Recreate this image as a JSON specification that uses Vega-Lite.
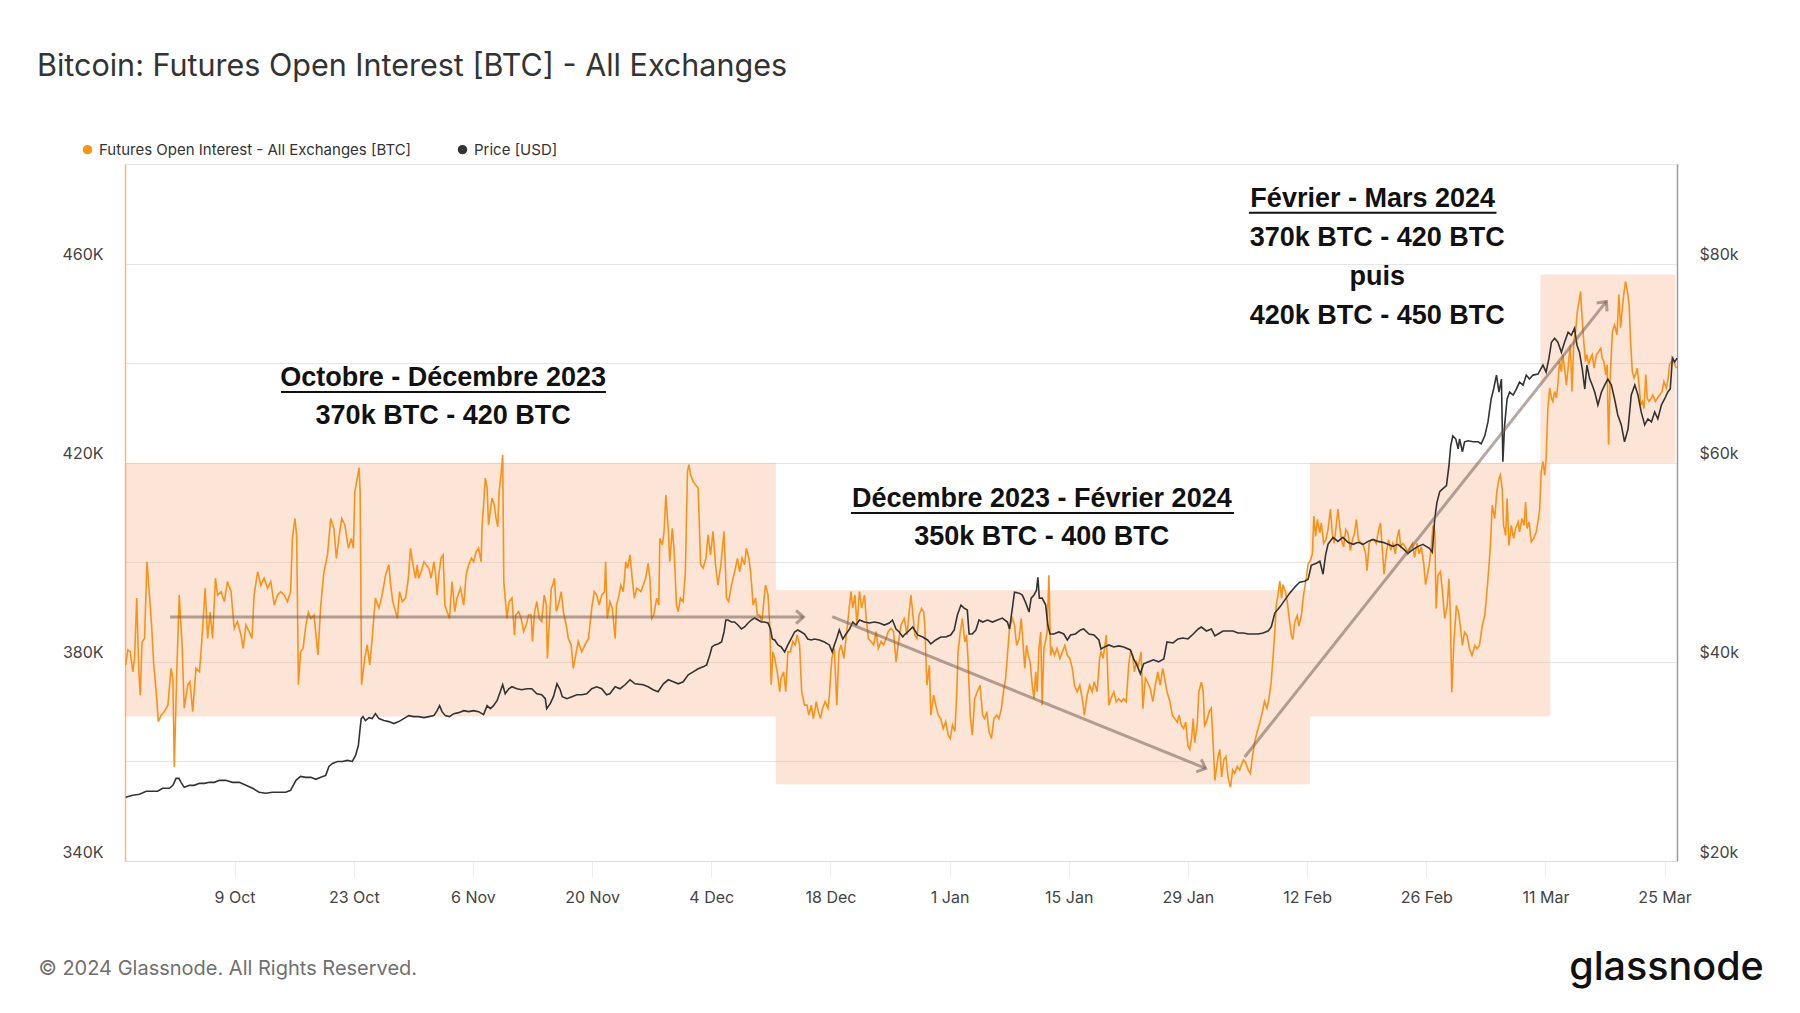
{
"$schema": "https://vega.github.io/schema/vega-lite/v6.json",
"width": 1552, "height": 697,
"autosize": {"type": "none"},
"padding": {"left": 125, "top": 164, "right": 123, "bottom": 152},
"background": "white",
"config": {"font": "Inter", "view": {"stroke": "#e4e4e4", "strokeWidth": 1}},
"title": {"text": "Bitcoin: Futures Open Interest [BTC] - All Exchanges", "anchor": "start", "frame": "group", "dx": -88, "offset": 36, "baseline": "alphabetic", "fontSize": 30.5, "fontWeight": 400, "color": "#333333", "font": "Inter"},
"datasets": {
"oi": [
{"t":"2023-09-26T05:00","v":379.4},{"t":"2023-09-26T11:00","v":382.4},{"t":"2023-09-26T18:00","v":382.0},{"t":"2023-09-27T01:00","v":378.0},{"t":"2023-09-27T06:00","v":380.7},{"t":"2023-09-27T12:00","v":392.8},{"t":"2023-09-27T18:00","v":378.0},{"t":"2023-09-27T22:00","v":373.3},{"t":"2023-09-28T03:00","v":384.0},{"t":"2023-09-28T10:00","v":384.7},{"t":"2023-09-28T17:00","v":400.1},{"t":"2023-09-29T00:00","v":393.4},{"t":"2023-09-29T06:00","v":387.4},{"t":"2023-09-29T12:00","v":379.4},{"t":"2023-09-29T19:00","v":374.0},{"t":"2023-09-30T01:00","v":368.0},{"t":"2023-09-30T09:00","v":369.3},{"t":"2023-09-30T18:00","v":370.0},{"t":"2023-10-01T04:00","v":371.3},{"t":"2023-10-01T13:00","v":378.7},{"t":"2023-10-01T18:00","v":376.7},{"t":"2023-10-01T22:00","v":358.9},{"t":"2023-10-02T05:00","v":378.0},{"t":"2023-10-02T12:00","v":393.4},{"t":"2023-10-02T20:00","v":383.4},{"t":"2023-10-03T02:00","v":370.7},{"t":"2023-10-03T12:00","v":375.4},{"t":"2023-10-03T18:00","v":376.0},{"t":"2023-10-04T02:00","v":370.0},{"t":"2023-10-04T11:00","v":378.7},{"t":"2023-10-04T21:00","v":378.0},{"t":"2023-10-05T04:00","v":384.7},{"t":"2023-10-05T13:00","v":394.8},{"t":"2023-10-05T20:00","v":384.7},{"t":"2023-10-06T03:00","v":390.0},{"t":"2023-10-06T10:00","v":384.7},{"t":"2023-10-06T18:00","v":396.8},{"t":"2023-10-07T00:00","v":393.4},{"t":"2023-10-07T10:00","v":394.1},{"t":"2023-10-07T19:00","v":392.1},{"t":"2023-10-08T04:00","v":396.1},{"t":"2023-10-08T14:00","v":394.1},{"t":"2023-10-08T23:00","v":386.7},{"t":"2023-10-09T08:00","v":388.1},{"t":"2023-10-09T18:00","v":385.4},{"t":"2023-10-10T00:00","v":382.7},{"t":"2023-10-10T08:00","v":387.4},{"t":"2023-10-10T17:00","v":386.1},{"t":"2023-10-11T01:00","v":384.7},{"t":"2023-10-11T07:00","v":393.4},{"t":"2023-10-11T17:00","v":398.1},{"t":"2023-10-12T02:00","v":395.4},{"t":"2023-10-12T11:00","v":396.8},{"t":"2023-10-12T21:00","v":394.8},{"t":"2023-10-13T06:00","v":396.1},{"t":"2023-10-13T16:00","v":391.4},{"t":"2023-10-14T01:00","v":393.4},{"t":"2023-10-14T10:00","v":394.1},{"t":"2023-10-14T20:00","v":393.4},{"t":"2023-10-15T05:00","v":392.1},{"t":"2023-10-15T14:00","v":394.1},{"t":"2023-10-15T19:00","v":404.8},{"t":"2023-10-16T02:00","v":408.8},{"t":"2023-10-16T07:00","v":405.5},{"t":"2023-10-16T12:00","v":375.4},{"t":"2023-10-16T18:00","v":382.0},{"t":"2023-10-17T01:00","v":382.7},{"t":"2023-10-17T09:00","v":387.4},{"t":"2023-10-17T16:00","v":390.0},{"t":"2023-10-17T23:00","v":388.7},{"t":"2023-10-18T08:00","v":389.4},{"t":"2023-10-18T19:00","v":381.4},{"t":"2023-10-19T03:00","v":391.4},{"t":"2023-10-19T12:00","v":398.1},{"t":"2023-10-19T22:00","v":401.5},{"t":"2023-10-20T07:00","v":408.8},{"t":"2023-10-20T16:00","v":406.8},{"t":"2023-10-20T23:00","v":400.8},{"t":"2023-10-21T06:00","v":404.8},{"t":"2023-10-21T14:00","v":408.8},{"t":"2023-10-21T23:00","v":407.5},{"t":"2023-10-22T09:00","v":402.8},{"t":"2023-10-22T17:00","v":404.8},{"t":"2023-10-22T23:00","v":402.8},{"t":"2023-10-23T03:00","v":414.2},{"t":"2023-10-23T10:00","v":416.9},{"t":"2023-10-23T15:00","v":419.0},{"t":"2023-10-23T18:00","v":414.2},{"t":"2023-10-23T22:00","v":375.4},{"t":"2023-10-24T07:00","v":380.7},{"t":"2023-10-24T14:00","v":383.4},{"t":"2023-10-24T21:00","v":379.4},{"t":"2023-10-25T04:00","v":384.7},{"t":"2023-10-25T13:00","v":392.8},{"t":"2023-10-25T23:00","v":390.8},{"t":"2023-10-26T08:00","v":393.4},{"t":"2023-10-26T18:00","v":397.5},
{"t":"2023-10-27T03:00","v":399.5},{"t":"2023-10-27T08:00","v":395.4},{"t":"2023-10-27T14:00","v":392.1},{"t":"2023-10-27T22:00","v":390.1},{"t":"2023-10-28T03:00","v":388.7},{"t":"2023-10-28T09:00","v":394.1},{"t":"2023-10-28T17:00","v":392.1},{"t":"2023-10-29T02:00","v":392.8},{"t":"2023-10-29T10:00","v":396.8},{"t":"2023-10-29T16:00","v":402.8},{"t":"2023-10-29T23:00","v":399.5},{"t":"2023-10-30T06:00","v":396.8},{"t":"2023-10-30T11:00","v":399.5},{"t":"2023-10-30T15:00","v":396.8},{"t":"2023-10-30T22:00","v":398.1},{"t":"2023-10-31T06:00","v":400.1},{"t":"2023-10-31T12:00","v":399.5},{"t":"2023-10-31T20:00","v":398.8},{"t":"2023-11-01T02:00","v":396.8},{"t":"2023-11-01T10:00","v":400.1},{"t":"2023-11-01T14:00","v":398.1},{"t":"2023-11-01T19:00","v":393.4},{"t":"2023-11-02T00:00","v":397.5},{"t":"2023-11-02T06:00","v":400.8},{"t":"2023-11-02T12:00","v":401.5},{"t":"2023-11-02T17:00","v":391.4},{"t":"2023-11-02T23:00","v":390.1},{"t":"2023-11-03T06:00","v":388.7},{"t":"2023-11-03T13:00","v":396.1},{"t":"2023-11-03T21:00","v":390.1},{"t":"2023-11-04T03:00","v":392.8},{"t":"2023-11-04T13:00","v":394.8},{"t":"2023-11-04T22:00","v":391.4},{"t":"2023-11-05T05:00","v":397.5},{"t":"2023-11-05T12:00","v":399.5},{"t":"2023-11-05T20:00","v":400.8},{"t":"2023-11-06T02:00","v":400.1},{"t":"2023-11-06T09:00","v":402.1},{"t":"2023-11-06T16:00","v":402.8},{"t":"2023-11-06T23:00","v":400.1},{"t":"2023-11-07T02:00","v":407.5},{"t":"2023-11-07T06:00","v":411.5},{"t":"2023-11-07T11:00","v":416.9},{"t":"2023-11-07T16:00","v":414.9},{"t":"2023-11-07T20:00","v":407.5},{"t":"2023-11-08T01:00","v":410.2},{"t":"2023-11-08T06:00","v":412.9},{"t":"2023-11-08T12:00","v":411.6},{"t":"2023-11-08T17:00","v":408.9},{"t":"2023-11-08T22:00","v":407.1},{"t":"2023-11-09T02:00","v":414.2},{"t":"2023-11-09T07:00","v":417.5},{"t":"2023-11-09T12:00","v":421.6},{"t":"2023-11-09T15:00","v":396.1},{"t":"2023-11-09T19:00","v":392.8},{"t":"2023-11-10T00:00","v":388.7},{"t":"2023-11-10T06:00","v":392.1},{"t":"2023-11-10T14:00","v":392.8},{"t":"2023-11-10T21:00","v":385.4},{"t":"2023-11-11T01:00","v":389.4},{"t":"2023-11-11T09:00","v":390.1},{"t":"2023-11-11T16:00","v":388.7},{"t":"2023-11-11T23:00","v":386.1},{"t":"2023-11-12T06:00","v":387.4},{"t":"2023-11-12T13:00","v":389.4},{"t":"2023-11-12T20:00","v":389.4},{"t":"2023-11-13T00:00","v":384.1},{"t":"2023-11-13T06:00","v":390.1},{"t":"2023-11-13T12:00","v":392.1},{"t":"2023-11-13T19:00","v":388.7},{"t":"2023-11-14T02:00","v":388.1},{"t":"2023-11-14T09:00","v":393.4},{"t":"2023-11-14T15:00","v":391.4},{"t":"2023-11-14T18:00","v":380.7},{"t":"2023-11-14T23:00","v":387.4},{"t":"2023-11-15T05:00","v":394.8},{"t":"2023-11-15T09:00","v":395.4},{"t":"2023-11-15T14:00","v":396.8},{"t":"2023-11-15T19:00","v":390.1},{"t":"2023-11-16T01:00","v":391.4},{"t":"2023-11-16T09:00","v":394.1},{"t":"2023-11-16T15:00","v":390.1},{"t":"2023-11-16T23:00","v":387.4},{"t":"2023-11-17T05:00","v":384.7},{"t":"2023-11-17T13:00","v":383.4},{"t":"2023-11-17T19:00","v":378.7},{"t":"2023-11-18T02:00","v":381.4},{"t":"2023-11-18T09:00","v":384.1},{"t":"2023-11-18T19:00","v":382.0},{"t":"2023-11-19T04:00","v":383.4},{"t":"2023-11-19T14:00","v":384.7},{"t":"2023-11-19T23:00","v":390.8},{"t":"2023-11-20T06:00","v":394.1},{"t":"2023-11-20T13:00","v":393.4},{"t":"2023-11-20T20:00","v":391.4},{"t":"2023-11-21T03:00","v":393.4},{"t":"2023-11-21T11:00","v":394.1},{"t":"2023-11-21T14:00","v":400.1},{"t":"2023-11-21T19:00","v":388.7},{"t":"2023-11-22T02:00","v":392.1},{"t":"2023-11-22T09:00","v":390.8},{"t":"2023-11-22T17:00","v":384.7},{"t":"2023-11-22T21:00","v":391.4},{"t":"2023-11-23T04:00","v":393.4},{"t":"2023-11-23T09:00","v":395.4},{"t":"2023-11-23T16:00","v":394.1},{"t":"2023-11-23T23:00","v":400.1},{"t":"2023-11-24T04:00","v":398.8},{"t":"2023-11-24T11:00","v":401.5},{"t":"2023-11-24T17:00","v":396.8},{"t":"2023-11-24T23:00","v":392.8},{"t":"2023-11-25T06:00","v":394.8},
{"t":"2023-11-25T18:00","v":394.1},{"t":"2023-11-26T00:00","v":395.4},{"t":"2023-11-26T07:00","v":396.8},{"t":"2023-11-26T14:00","v":399.8},{"t":"2023-11-26T19:00","v":396.8},{"t":"2023-11-27T00:00","v":388.7},{"t":"2023-11-27T06:00","v":389.4},{"t":"2023-11-27T14:00","v":392.8},{"t":"2023-11-27T20:00","v":391.4},{"t":"2023-11-27T23:00","v":404.8},{"t":"2023-11-28T06:00","v":403.5},{"t":"2023-11-28T11:00","v":406.2},{"t":"2023-11-28T16:00","v":413.5},{"t":"2023-11-28T23:00","v":406.2},{"t":"2023-11-29T03:00","v":400.1},{"t":"2023-11-29T10:00","v":406.8},{"t":"2023-11-29T15:00","v":402.8},{"t":"2023-11-29T22:00","v":391.4},{"t":"2023-11-30T03:00","v":390.1},{"t":"2023-11-30T09:00","v":392.8},{"t":"2023-11-30T17:00","v":392.1},{"t":"2023-11-30T23:00","v":398.1},{"t":"2023-12-01T05:00","v":418.2},{"t":"2023-12-01T09:00","v":419.6},{"t":"2023-12-01T14:00","v":417.5},{"t":"2023-12-01T21:00","v":416.2},{"t":"2023-12-02T04:00","v":415.5},{"t":"2023-12-02T11:00","v":414.9},{"t":"2023-12-02T18:00","v":399.5},{"t":"2023-12-03T01:00","v":398.8},{"t":"2023-12-03T09:00","v":400.8},{"t":"2023-12-03T15:00","v":405.5},{"t":"2023-12-03T22:00","v":401.5},{"t":"2023-12-04T05:00","v":406.2},{"t":"2023-12-04T12:00","v":399.5},{"t":"2023-12-04T19:00","v":395.4},{"t":"2023-12-05T03:00","v":399.5},{"t":"2023-12-05T12:00","v":406.2},{"t":"2023-12-05T19:00","v":392.8},{"t":"2023-12-06T01:00","v":392.1},{"t":"2023-12-06T09:00","v":395.4},{"t":"2023-12-06T18:00","v":398.1},{"t":"2023-12-07T02:00","v":400.8},{"t":"2023-12-07T08:00","v":398.1},{"t":"2023-12-07T15:00","v":400.8},{"t":"2023-12-07T22:00","v":399.5},{"t":"2023-12-08T03:00","v":402.8},{"t":"2023-12-08T10:00","v":400.8},{"t":"2023-12-08T15:00","v":398.1},{"t":"2023-12-08T22:00","v":391.4},{"t":"2023-12-09T05:00","v":392.8},{"t":"2023-12-09T10:00","v":389.4},{"t":"2023-12-09T16:00","v":389.4},{"t":"2023-12-09T23:00","v":388.1},{"t":"2023-12-10T05:00","v":392.8},{"t":"2023-12-10T09:00","v":395.4},{"t":"2023-12-10T16:00","v":393.4},{"t":"2023-12-10T21:00","v":387.4},{"t":"2023-12-11T01:00","v":375.4},{"t":"2023-12-11T06:00","v":382.0},{"t":"2023-12-11T11:00","v":380.7},{"t":"2023-12-11T18:00","v":378.0},{"t":"2023-12-12T01:00","v":374.0},{"t":"2023-12-12T05:00","v":376.7},{"t":"2023-12-12T12:00","v":378.0},{"t":"2023-12-12T18:00","v":374.0},{"t":"2023-12-13T00:00","v":382.0},{"t":"2023-12-13T07:00","v":382.0},{"t":"2023-12-13T14:00","v":384.1},{"t":"2023-12-13T21:00","v":383.4},{"t":"2023-12-14T02:00","v":385.4},{"t":"2023-12-14T09:00","v":383.4},{"t":"2023-12-14T15:00","v":374.0},{"t":"2023-12-14T23:00","v":371.3},{"t":"2023-12-15T06:00","v":371.3},{"t":"2023-12-15T11:00","v":369.3},{"t":"2023-12-15T18:00","v":371.3},{"t":"2023-12-16T00:00","v":368.6},{"t":"2023-12-16T08:00","v":372.0},{"t":"2023-12-16T14:00","v":370.0},{"t":"2023-12-16T20:00","v":368.6},{"t":"2023-12-17T02:00","v":370.7},{"t":"2023-12-17T09:00","v":372.0},{"t":"2023-12-17T17:00","v":370.7},{"t":"2023-12-17T21:00","v":373.3},{"t":"2023-12-18T04:00","v":380.7},{"t":"2023-12-18T11:00","v":382.7},{"t":"2023-12-18T18:00","v":371.3},{"t":"2023-12-19T00:00","v":382.0},{"t":"2023-12-19T06:00","v":383.4},{"t":"2023-12-19T14:00","v":380.7},{"t":"2023-12-19T20:00","v":384.7},{"t":"2023-12-20T03:00","v":389.4},{"t":"2023-12-20T10:00","v":394.1},{"t":"2023-12-20T15:00","v":390.8},{"t":"2023-12-20T21:00","v":393.4},{"t":"2023-12-21T03:00","v":387.4},{"t":"2023-12-21T10:00","v":394.1},{"t":"2023-12-21T16:00","v":390.8},{"t":"2023-12-22T00:00","v":393.4},{"t":"2023-12-22T05:00","v":388.7},{"t":"2023-12-22T11:00","v":384.7},{"t":"2023-12-22T18:00","v":384.1},{"t":"2023-12-23T02:00","v":383.4},{"t":"2023-12-23T09:00","v":386.1},{"t":"2023-12-23T15:00","v":382.7},{"t":"2023-12-23T23:00","v":384.1},{"t":"2023-12-24T06:00","v":383.4},{"t":"2023-12-24T13:00","v":384.7},{"t":"2023-12-24T19:00","v":386.1},{"t":"2023-12-25T03:00","v":386.7},{"t":"2023-12-25T10:00","v":386.1},{"t":"2023-12-25T17:00","v":380.0},{"t":"2023-12-25T23:00","v":383.4},{"t":"2023-12-26T07:00","v":387.4},{"t":"2023-12-26T16:00","v":388.7},
{"t":"2023-12-27T00:00","v":385.4},{"t":"2023-12-27T06:00","v":390.0},{"t":"2023-12-27T11:00","v":393.4},{"t":"2023-12-27T16:00","v":390.0},{"t":"2023-12-27T22:00","v":385.4},{"t":"2023-12-28T04:00","v":384.7},{"t":"2023-12-28T10:00","v":389.4},{"t":"2023-12-28T17:00","v":390.7},{"t":"2023-12-28T23:00","v":390.0},{"t":"2023-12-29T02:00","v":387.4},{"t":"2023-12-29T08:00","v":375.3},{"t":"2023-12-29T15:00","v":379.3},{"t":"2023-12-29T19:00","v":369.3},{"t":"2023-12-30T03:00","v":373.3},{"t":"2023-12-30T09:00","v":371.3},{"t":"2023-12-30T16:00","v":369.3},{"t":"2023-12-30T23:00","v":368.6},{"t":"2023-12-31T06:00","v":366.6},{"t":"2023-12-31T13:00","v":368.0},{"t":"2023-12-31T20:00","v":365.3},{"t":"2024-01-01T02:00","v":364.6},{"t":"2024-01-01T08:00","v":367.3},{"t":"2024-01-01T15:00","v":366.0},{"t":"2024-01-01T20:00","v":373.3},{"t":"2024-01-02T00:00","v":382.0},{"t":"2024-01-02T06:00","v":386.0},{"t":"2024-01-02T12:00","v":388.7},{"t":"2024-01-02T19:00","v":384.0},{"t":"2024-01-03T00:00","v":385.4},{"t":"2024-01-03T04:00","v":380.7},{"t":"2024-01-03T10:00","v":369.3},{"t":"2024-01-03T16:00","v":365.3},{"t":"2024-01-03T23:00","v":372.6},{"t":"2024-01-04T06:00","v":374.0},{"t":"2024-01-04T14:00","v":375.3},{"t":"2024-01-04T21:00","v":369.3},{"t":"2024-01-05T03:00","v":368.6},{"t":"2024-01-05T09:00","v":370.0},{"t":"2024-01-05T15:00","v":366.0},{"t":"2024-01-05T22:00","v":364.6},{"t":"2024-01-06T05:00","v":368.6},{"t":"2024-01-06T13:00","v":369.3},{"t":"2024-01-06T19:00","v":368.6},{"t":"2024-01-07T02:00","v":370.6},{"t":"2024-01-07T08:00","v":374.0},{"t":"2024-01-07T14:00","v":376.7},{"t":"2024-01-07T19:00","v":381.3},{"t":"2024-01-08T01:00","v":386.7},{"t":"2024-01-08T09:00","v":388.7},{"t":"2024-01-08T15:00","v":387.4},{"t":"2024-01-08T21:00","v":383.3},{"t":"2024-01-09T04:00","v":384.7},{"t":"2024-01-09T10:00","v":388.7},{"t":"2024-01-09T16:00","v":382.7},{"t":"2024-01-09T20:00","v":378.7},{"t":"2024-01-10T01:00","v":383.3},{"t":"2024-01-10T06:00","v":381.3},{"t":"2024-01-10T11:00","v":380.0},{"t":"2024-01-10T17:00","v":375.3},{"t":"2024-01-10T22:00","v":372.6},{"t":"2024-01-11T03:00","v":378.0},{"t":"2024-01-11T07:00","v":374.0},{"t":"2024-01-11T12:00","v":382.7},{"t":"2024-01-11T17:00","v":386.0},{"t":"2024-01-11T21:00","v":371.3},{"t":"2024-01-12T02:00","v":382.7},{"t":"2024-01-12T08:00","v":384.7},{"t":"2024-01-12T11:00","v":386.0},{"t":"2024-01-12T16:00","v":397.4},{"t":"2024-01-12T21:00","v":381.3},{"t":"2024-01-13T01:00","v":382.7},{"t":"2024-01-13T08:00","v":381.3},{"t":"2024-01-13T15:00","v":382.7},{"t":"2024-01-13T23:00","v":380.7},{"t":"2024-01-14T06:00","v":382.0},{"t":"2024-01-14T13:00","v":383.3},{"t":"2024-01-14T20:00","v":381.3},{"t":"2024-01-15T03:00","v":380.7},{"t":"2024-01-15T10:00","v":378.7},{"t":"2024-01-15T16:00","v":375.3},{"t":"2024-01-16T00:00","v":374.0},{"t":"2024-01-16T07:00","v":375.3},{"t":"2024-01-16T14:00","v":372.6},{"t":"2024-01-16T20:00","v":369.3},{"t":"2024-01-17T04:00","v":373.3},{"t":"2024-01-17T11:00","v":375.3},{"t":"2024-01-17T18:00","v":374.0},{"t":"2024-01-18T00:00","v":376.0},{"t":"2024-01-18T08:00","v":374.0},{"t":"2024-01-18T15:00","v":380.7},{"t":"2024-01-18T19:00","v":382.0},{"t":"2024-01-19T01:00","v":380.7},{"t":"2024-01-19T06:00","v":383.3},{"t":"2024-01-19T10:00","v":385.4},{"t":"2024-01-19T17:00","v":371.3},{"t":"2024-01-19T23:00","v":372.6},{"t":"2024-01-20T07:00","v":374.0},{"t":"2024-01-20T14:00","v":372.0},{"t":"2024-01-20T21:00","v":372.6},{"t":"2024-01-21T04:00","v":372.0},{"t":"2024-01-21T11:00","v":372.6},{"t":"2024-01-21T18:00","v":372.0},{"t":"2024-01-22T01:00","v":379.3},{"t":"2024-01-22T06:00","v":382.0},{"t":"2024-01-22T12:00","v":381.3},{"t":"2024-01-22T17:00","v":378.0},{"t":"2024-01-22T23:00","v":380.0},{"t":"2024-01-23T05:00","v":379.3},{"t":"2024-01-23T12:00","v":382.0},{"t":"2024-01-23T17:00","v":370.6},{"t":"2024-01-24T00:00","v":376.7},{"t":"2024-01-24T06:00","v":376.0},{"t":"2024-01-24T14:00","v":374.6},{"t":"2024-01-24T21:00","v":372.0},{"t":"2024-01-25T04:00","v":375.3},{"t":"2024-01-25T11:00","v":378.0},{"t":"2024-01-25T18:00","v":375.3},{"t":"2024-01-26T01:00","v":378.7},{"t":"2024-01-26T08:00","v":376.0},{"t":"2024-01-26T13:00","v":374.0},
{"t":"2024-01-26T21:00","v":372.1},{"t":"2024-01-27T04:00","v":369.3},{"t":"2024-01-27T11:00","v":368.6},{"t":"2024-01-27T18:00","v":367.9},{"t":"2024-01-27T23:00","v":369.3},{"t":"2024-01-28T06:00","v":367.2},{"t":"2024-01-28T12:00","v":366.6},{"t":"2024-01-28T18:00","v":367.9},{"t":"2024-01-29T00:00","v":363.1},{"t":"2024-01-29T05:00","v":362.4},{"t":"2024-01-29T10:00","v":364.5},{"t":"2024-01-29T15:00","v":368.6},{"t":"2024-01-29T19:00","v":363.8},{"t":"2024-01-30T02:00","v":367.2},{"t":"2024-01-30T07:00","v":374.1},{"t":"2024-01-30T14:00","v":375.9},{"t":"2024-01-30T19:00","v":374.1},{"t":"2024-01-30T23:00","v":367.2},{"t":"2024-01-31T04:00","v":367.9},{"t":"2024-01-31T12:00","v":370.0},{"t":"2024-01-31T18:00","v":370.7},{"t":"2024-01-31T23:00","v":363.8},{"t":"2024-02-01T04:00","v":356.2},{"t":"2024-02-01T08:00","v":358.3},{"t":"2024-02-01T13:00","v":361.0},{"t":"2024-02-01T18:00","v":362.4},{"t":"2024-02-01T23:00","v":356.9},{"t":"2024-02-02T05:00","v":360.3},{"t":"2024-02-02T11:00","v":361.0},{"t":"2024-02-02T17:00","v":356.9},{"t":"2024-02-03T00:00","v":354.8},{"t":"2024-02-03T06:00","v":358.3},{"t":"2024-02-03T12:00","v":357.6},{"t":"2024-02-03T19:00","v":359.0},{"t":"2024-02-04T02:00","v":358.3},{"t":"2024-02-04T09:00","v":359.7},{"t":"2024-02-04T13:00","v":360.3},{"t":"2024-02-04T19:00","v":359.7},{"t":"2024-02-05T02:00","v":358.3},{"t":"2024-02-05T08:00","v":357.6},{"t":"2024-02-05T14:00","v":361.0},{"t":"2024-02-05T20:00","v":363.8},{"t":"2024-02-06T03:00","v":365.9},{"t":"2024-02-06T11:00","v":367.9},{"t":"2024-02-06T18:00","v":370.0},{"t":"2024-02-07T00:00","v":372.1},{"t":"2024-02-07T07:00","v":370.7},{"t":"2024-02-07T13:00","v":372.8},{"t":"2024-02-07T19:00","v":376.2},{"t":"2024-02-08T00:00","v":381.0},{"t":"2024-02-08T05:00","v":385.9},{"t":"2024-02-08T09:00","v":391.4},{"t":"2024-02-08T14:00","v":393.4},{"t":"2024-02-08T19:00","v":396.2},{"t":"2024-02-09T00:00","v":392.8},{"t":"2024-02-09T04:00","v":395.5},{"t":"2024-02-09T11:00","v":394.1},{"t":"2024-02-09T16:00","v":392.1},{"t":"2024-02-09T23:00","v":387.9},{"t":"2024-02-10T04:00","v":385.2},{"t":"2024-02-10T08:00","v":384.5},{"t":"2024-02-10T13:00","v":387.9},{"t":"2024-02-10T20:00","v":389.3},{"t":"2024-02-11T01:00","v":387.2},{"t":"2024-02-11T08:00","v":389.3},{"t":"2024-02-11T13:00","v":392.8},{"t":"2024-02-11T17:00","v":394.8},{"t":"2024-02-11T22:00","v":396.9},{"t":"2024-02-12T03:00","v":399.7},{"t":"2024-02-12T09:00","v":400.3},{"t":"2024-02-12T15:00","v":401.7},{"t":"2024-02-12T19:00","v":409.3},{"t":"2024-02-13T00:00","v":405.2},{"t":"2024-02-13T05:00","v":408.6},{"t":"2024-02-13T12:00","v":405.9},{"t":"2024-02-13T16:00","v":407.9},{"t":"2024-02-13T23:00","v":403.8},{"t":"2024-02-14T05:00","v":404.5},{"t":"2024-02-14T11:00","v":406.6},{"t":"2024-02-14T18:00","v":410.7},{"t":"2024-02-14T23:00","v":405.9},{"t":"2024-02-15T04:00","v":403.8},{"t":"2024-02-15T09:00","v":406.6},{"t":"2024-02-15T15:00","v":410.7},{"t":"2024-02-15T20:00","v":407.2},{"t":"2024-02-16T01:00","v":404.5},{"t":"2024-02-16T07:00","v":403.1},{"t":"2024-02-16T13:00","v":406.6},{"t":"2024-02-16T19:00","v":405.9},{"t":"2024-02-17T02:00","v":402.4},{"t":"2024-02-17T08:00","v":404.5},{"t":"2024-02-17T14:00","v":405.9},{"t":"2024-02-17T19:00","v":408.6},{"t":"2024-02-18T01:00","v":404.5},{"t":"2024-02-18T09:00","v":403.8},{"t":"2024-02-18T16:00","v":403.1},{"t":"2024-02-18T21:00","v":401.7},{"t":"2024-02-19T01:00","v":398.3},{"t":"2024-02-19T07:00","v":403.8},{"t":"2024-02-19T13:00","v":404.5},{"t":"2024-02-19T20:00","v":404.5},{"t":"2024-02-20T03:00","v":403.8},{"t":"2024-02-20T10:00","v":406.6},{"t":"2024-02-20T15:00","v":407.9},{"t":"2024-02-20T19:00","v":403.8},{"t":"2024-02-21T01:00","v":397.6},{"t":"2024-02-21T07:00","v":401.7},{"t":"2024-02-21T14:00","v":404.5},{"t":"2024-02-21T20:00","v":402.4},{"t":"2024-02-22T02:00","v":403.8},{"t":"2024-02-22T09:00","v":401.7},{"t":"2024-02-22T13:00","v":404.5},{"t":"2024-02-22T19:00","v":406.6},{"t":"2024-02-23T00:00","v":403.1},{"t":"2024-02-23T06:00","v":403.8},{"t":"2024-02-23T13:00","v":403.1},{"t":"2024-02-23T20:00","v":401.7},{"t":"2024-02-24T03:00","v":403.1},{"t":"2024-02-24T09:00","v":403.8},{"t":"2024-02-24T15:00","v":401.0},{"t":"2024-02-24T22:00","v":403.8},{"t":"2024-02-25T04:00","v":401.7},{"t":"2024-02-25T10:00","v":403.1},{"t":"2024-02-25T17:00","v":399.7},{"t":"2024-02-25T22:00","v":395.5},{"t":"2024-02-26T05:00","v":398.3},
{"t":"2024-02-26T08:00","v":399.3},{"t":"2024-02-26T14:00","v":402.8},{"t":"2024-02-26T19:00","v":407.4},{"t":"2024-02-27T00:00","v":406.1},{"t":"2024-02-27T04:00","v":390.7},{"t":"2024-02-27T09:00","v":397.4},{"t":"2024-02-27T16:00","v":398.1},{"t":"2024-02-27T21:00","v":394.7},{"t":"2024-02-28T04:00","v":388.7},{"t":"2024-02-28T11:00","v":391.3},{"t":"2024-02-28T16:00","v":396.7},{"t":"2024-02-28T20:00","v":389.3},{"t":"2024-02-29T00:00","v":373.9},{"t":"2024-02-29T06:00","v":384.0},{"t":"2024-02-29T13:00","v":391.3},{"t":"2024-02-29T19:00","v":390.0},{"t":"2024-03-01T01:00","v":386.6},{"t":"2024-03-01T06:00","v":383.3},{"t":"2024-03-01T12:00","v":386.0},{"t":"2024-03-01T19:00","v":385.3},{"t":"2024-03-02T02:00","v":382.6},{"t":"2024-03-02T09:00","v":381.3},{"t":"2024-03-02T17:00","v":383.3},{"t":"2024-03-02T23:00","v":382.6},{"t":"2024-03-03T06:00","v":383.3},{"t":"2024-03-03T14:00","v":387.3},{"t":"2024-03-03T21:00","v":389.3},{"t":"2024-03-04T03:00","v":394.0},{"t":"2024-03-04T09:00","v":399.4},{"t":"2024-03-04T13:00","v":403.4},{"t":"2024-03-04T18:00","v":411.5},{"t":"2024-03-05T01:00","v":408.8},{"t":"2024-03-05T07:00","v":414.2},{"t":"2024-03-05T13:00","v":416.8},{"t":"2024-03-05T17:00","v":417.5},{"t":"2024-03-05T22:00","v":414.8},{"t":"2024-03-06T02:00","v":407.4},{"t":"2024-03-06T08:00","v":405.4},{"t":"2024-03-06T12:00","v":412.8},{"t":"2024-03-06T17:00","v":403.4},{"t":"2024-03-07T00:00","v":407.4},{"t":"2024-03-07T06:00","v":404.8},{"t":"2024-03-07T12:00","v":406.8},{"t":"2024-03-07T19:00","v":408.1},{"t":"2024-03-07T23:00","v":406.1},{"t":"2024-03-08T06:00","v":408.8},{"t":"2024-03-08T12:00","v":407.4},{"t":"2024-03-08T16:00","v":412.1},{"t":"2024-03-08T20:00","v":406.8},{"t":"2024-03-09T02:00","v":408.1},{"t":"2024-03-09T08:00","v":404.1},{"t":"2024-03-09T15:00","v":404.8},{"t":"2024-03-09T22:00","v":406.1},{"t":"2024-03-10T03:00","v":408.1},{"t":"2024-03-10T08:00","v":410.8},{"t":"2024-03-10T12:00","v":418.2},{"t":"2024-03-10T17:00","v":420.2},{"t":"2024-03-10T22:00","v":417.5},{"t":"2024-03-11T02:00","v":420.9},{"t":"2024-03-11T07:00","v":430.9},{"t":"2024-03-11T12:00","v":435.0},{"t":"2024-03-11T17:00","v":433.0},{"t":"2024-03-11T21:00","v":432.3},{"t":"2024-03-12T02:00","v":434.3},{"t":"2024-03-12T07:00","v":433.0},{"t":"2024-03-12T11:00","v":435.6},{"t":"2024-03-12T16:00","v":440.3},{"t":"2024-03-12T21:00","v":438.3},{"t":"2024-03-13T01:00","v":441.7},{"t":"2024-03-13T06:00","v":439.0},{"t":"2024-03-13T11:00","v":435.6},{"t":"2024-03-13T17:00","v":439.7},{"t":"2024-03-13T22:00","v":443.7},{"t":"2024-03-14T03:00","v":434.3},{"t":"2024-03-14T08:00","v":444.4},{"t":"2024-03-14T13:00","v":446.4},{"t":"2024-03-14T18:00","v":450.4},{"t":"2024-03-14T23:00","v":452.4},{"t":"2024-03-15T03:00","v":454.4},{"t":"2024-03-15T07:00","v":449.7},{"t":"2024-03-15T12:00","v":444.4},{"t":"2024-03-15T17:00","v":440.3},{"t":"2024-03-15T21:00","v":441.7},{"t":"2024-03-16T02:00","v":439.7},{"t":"2024-03-16T07:00","v":441.0},{"t":"2024-03-16T12:00","v":441.7},{"t":"2024-03-16T17:00","v":439.0},{"t":"2024-03-17T00:00","v":441.7},{"t":"2024-03-17T06:00","v":442.3},{"t":"2024-03-17T12:00","v":443.0},{"t":"2024-03-17T16:00","v":441.0},{"t":"2024-03-17T21:00","v":440.3},{"t":"2024-03-18T02:00","v":437.7},{"t":"2024-03-18T06:00","v":439.7},{"t":"2024-03-18T10:00","v":423.6},{"t":"2024-03-18T15:00","v":437.7},{"t":"2024-03-18T21:00","v":446.4},{"t":"2024-03-19T03:00","v":447.7},{"t":"2024-03-19T10:00","v":445.7},{"t":"2024-03-19T15:00","v":453.8},{"t":"2024-03-19T20:00","v":447.1},{"t":"2024-03-20T01:00","v":451.1},{"t":"2024-03-20T06:00","v":454.4},{"t":"2024-03-20T10:00","v":456.4},{"t":"2024-03-20T15:00","v":454.4},{"t":"2024-03-20T20:00","v":451.7},{"t":"2024-03-21T00:00","v":444.4},{"t":"2024-03-21T05:00","v":438.3},{"t":"2024-03-21T10:00","v":437.0},{"t":"2024-03-21T14:00","v":437.7},{"t":"2024-03-21T19:00","v":439.0},{"t":"2024-03-22T00:00","v":435.6},{"t":"2024-03-22T05:00","v":431.6},{"t":"2024-03-22T09:00","v":432.3},{"t":"2024-03-22T14:00","v":430.9},{"t":"2024-03-22T19:00","v":437.7},{"t":"2024-03-22T23:00","v":433.0},{"t":"2024-03-23T04:00","v":432.3},{"t":"2024-03-23T11:00","v":433.0},{"t":"2024-03-23T15:00","v":433.6},{"t":"2024-03-23T22:00","v":432.3},{"t":"2024-03-24T04:00","v":433.0},{"t":"2024-03-24T10:00","v":433.6},{"t":"2024-03-24T17:00","v":434.3},{"t":"2024-03-24T22:00","v":436.3},{"t":"2024-03-25T05:00","v":435.0},{"t":"2024-03-25T10:00","v":437.0},{"t":"2024-03-25T14:00","v":439.7},{"t":"2024-03-25T19:00","v":440.3},{"t":"2024-03-26T00:00","v":441.0},{"t":"2024-03-26T05:00","v":439.7},{"t":"2024-03-26T09:00","v":439.0}
],
"px": [
{"t":"2023-09-26T05:00","p":26.4},{"t":"2023-09-27T01:00","p":26.6},{"t":"2023-09-27T20:00","p":26.7},{"t":"2023-09-28T15:00","p":27.0},{"t":"2023-09-29T09:00","p":27.0},{"t":"2023-09-29T23:00","p":27.0},{"t":"2023-09-30T13:00","p":27.3},{"t":"2023-10-01T08:00","p":27.3},{"t":"2023-10-01T18:00","p":27.6},{"t":"2023-10-02T03:00","p":28.3},{"t":"2023-10-02T11:00","p":28.3},{"t":"2023-10-02T17:00","p":27.9},{"t":"2023-10-03T02:00","p":27.4},{"t":"2023-10-03T17:00","p":27.6},{"t":"2023-10-04T06:00","p":27.6},{"t":"2023-10-04T21:00","p":27.8},{"t":"2023-10-05T11:00","p":27.8},{"t":"2023-10-06T01:00","p":27.9},{"t":"2023-10-06T15:00","p":27.9},{"t":"2023-10-07T05:00","p":28.1},{"t":"2023-10-07T23:00","p":28.1},{"t":"2023-10-08T18:00","p":27.9},{"t":"2023-10-09T13:00","p":27.9},{"t":"2023-10-10T08:00","p":27.6},{"t":"2023-10-11T03:00","p":27.3},{"t":"2023-10-11T21:00","p":26.9},{"t":"2023-10-12T16:00","p":26.8},{"t":"2023-10-13T11:00","p":26.9},{"t":"2023-10-14T06:00","p":26.9},{"t":"2023-10-15T00:00","p":26.9},{"t":"2023-10-15T14:00","p":27.1},{"t":"2023-10-16T05:00","p":28.1},{"t":"2023-10-16T18:00","p":28.5},{"t":"2023-10-17T09:00","p":28.4},{"t":"2023-10-17T23:00","p":28.4},{"t":"2023-10-18T13:00","p":28.2},{"t":"2023-10-19T03:00","p":28.4},{"t":"2023-10-19T17:00","p":28.6},{"t":"2023-10-20T02:00","p":29.5},{"t":"2023-10-20T12:00","p":29.8},{"t":"2023-10-21T02:00","p":30.0},{"t":"2023-10-21T16:00","p":30.0},{"t":"2023-10-22T06:00","p":30.1},{"t":"2023-10-22T20:00","p":30.0},{"t":"2023-10-23T05:00","p":30.6},{"t":"2023-10-23T13:00","p":31.6},{"t":"2023-10-23T17:00","p":33.0},{"t":"2023-10-23T21:00","p":34.3},{"t":"2023-10-24T02:00","p":34.5},{"t":"2023-10-24T09:00","p":34.1},{"t":"2023-10-24T19:00","p":34.4},{"t":"2023-10-25T04:00","p":34.3},{"t":"2023-10-25T13:00","p":34.8},{"t":"2023-10-25T23:00","p":34.3},{"t":"2023-10-26T13:00","p":34.1},
{"t":"2023-10-27T03:00","p":34.0},{"t":"2023-10-27T17:00","p":33.8},{"t":"2023-10-28T07:00","p":34.0},{"t":"2023-10-28T21:00","p":34.3},{"t":"2023-10-29T11:00","p":34.6},{"t":"2023-10-30T01:00","p":34.5},{"t":"2023-10-30T15:00","p":34.5},{"t":"2023-10-31T06:00","p":34.4},{"t":"2023-10-31T20:00","p":34.5},{"t":"2023-11-01T10:00","p":34.6},{"t":"2023-11-01T19:00","p":35.1},{"t":"2023-11-02T02:00","p":35.6},{"t":"2023-11-02T09:00","p":35.0},{"t":"2023-11-02T18:00","p":34.6},{"t":"2023-11-03T06:00","p":34.5},{"t":"2023-11-03T18:00","p":34.8},{"t":"2023-11-04T08:00","p":34.9},{"t":"2023-11-04T22:00","p":35.1},{"t":"2023-11-05T12:00","p":35.0},{"t":"2023-11-06T02:00","p":35.1},{"t":"2023-11-06T16:00","p":35.0},{"t":"2023-11-07T06:00","p":34.7},{"t":"2023-11-07T16:00","p":35.6},{"t":"2023-11-08T01:00","p":35.3},{"t":"2023-11-08T10:00","p":35.6},{"t":"2023-11-08T20:00","p":36.1},{"t":"2023-11-09T05:00","p":37.0},{"t":"2023-11-09T12:00","p":37.7},{"t":"2023-11-09T19:00","p":36.8},{"t":"2023-11-10T05:00","p":37.3},{"t":"2023-11-10T14:00","p":37.5},{"t":"2023-11-11T04:00","p":37.3},{"t":"2023-11-11T18:00","p":37.2},{"t":"2023-11-12T08:00","p":37.3},{"t":"2023-11-12T22:00","p":37.3},{"t":"2023-11-13T12:00","p":36.8},{"t":"2023-11-14T02:00","p":36.7},{"t":"2023-11-14T12:00","p":36.3},{"t":"2023-11-14T16:00","p":35.3},{"t":"2023-11-15T02:00","p":35.8},{"t":"2023-11-15T11:00","p":36.5},{"t":"2023-11-15T21:00","p":37.8},{"t":"2023-11-16T06:00","p":37.2},{"t":"2023-11-16T12:00","p":36.5},{"t":"2023-11-17T01:00","p":36.3},{"t":"2023-11-17T15:00","p":36.5},{"t":"2023-11-18T05:00","p":36.7},{"t":"2023-11-18T19:00","p":36.7},{"t":"2023-11-19T09:00","p":36.8},{"t":"2023-11-19T23:00","p":37.3},{"t":"2023-11-20T13:00","p":37.5},{"t":"2023-11-21T03:00","p":37.3},{"t":"2023-11-21T17:00","p":36.7},{"t":"2023-11-22T02:00","p":36.8},{"t":"2023-11-22T17:00","p":37.5},{"t":"2023-11-23T07:00","p":37.3},{"t":"2023-11-23T21:00","p":37.7},{"t":"2023-11-24T11:00","p":38.2},{"t":"2023-11-25T01:00","p":37.8},
{"t":"2023-11-26T00:00","p":37.7},{"t":"2023-11-26T14:00","p":37.5},{"t":"2023-11-27T04:00","p":37.2},{"t":"2023-11-27T18:00","p":37.0},{"t":"2023-11-28T09:00","p":37.8},{"t":"2023-11-28T23:00","p":38.2},{"t":"2023-11-29T13:00","p":38.0},{"t":"2023-11-30T03:00","p":37.8},{"t":"2023-11-30T17:00","p":38.0},{"t":"2023-12-01T07:00","p":38.7},{"t":"2023-12-01T21:00","p":39.0},{"t":"2023-12-02T11:00","p":39.3},{"t":"2023-12-03T01:00","p":39.5},{"t":"2023-12-03T11:00","p":39.7},{"t":"2023-12-03T20:00","p":40.7},{"t":"2023-12-04T02:00","p":41.5},{"t":"2023-12-04T10:00","p":41.7},{"t":"2023-12-04T19:00","p":41.8},{"t":"2023-12-05T05:00","p":42.0},{"t":"2023-12-05T12:00","p":43.0},{"t":"2023-12-05T17:00","p":44.2},{"t":"2023-12-05T23:00","p":44.2},{"t":"2023-12-06T09:00","p":44.0},{"t":"2023-12-06T18:00","p":44.0},{"t":"2023-12-07T03:00","p":43.7},{"t":"2023-12-07T13:00","p":43.3},{"t":"2023-12-07T22:00","p":43.5},{"t":"2023-12-08T08:00","p":43.9},{"t":"2023-12-08T17:00","p":44.2},{"t":"2023-12-09T02:00","p":44.4},{"t":"2023-12-09T12:00","p":44.2},{"t":"2023-12-09T21:00","p":44.0},{"t":"2023-12-10T06:00","p":44.0},{"t":"2023-12-10T16:00","p":43.9},{"t":"2023-12-10T23:00","p":43.3},{"t":"2023-12-11T04:00","p":42.3},{"t":"2023-12-11T11:00","p":42.2},{"t":"2023-12-11T20:00","p":41.7},{"t":"2023-12-12T05:00","p":41.5},{"t":"2023-12-12T15:00","p":41.0},{"t":"2023-12-13T00:00","p":41.7},{"t":"2023-12-13T09:00","p":42.3},{"t":"2023-12-13T19:00","p":43.0},{"t":"2023-12-14T04:00","p":43.2},{"t":"2023-12-14T14:00","p":43.0},{"t":"2023-12-14T23:00","p":42.8},{"t":"2023-12-15T08:00","p":42.3},{"t":"2023-12-15T18:00","p":42.2},{"t":"2023-12-16T03:00","p":42.3},{"t":"2023-12-16T17:00","p":42.2},{"t":"2023-12-17T07:00","p":42.0},{"t":"2023-12-17T21:00","p":41.7},{"t":"2023-12-18T05:00","p":41.0},{"t":"2023-12-18T11:00","p":41.7},{"t":"2023-12-18T19:00","p":42.5},{"t":"2023-12-19T01:00","p":43.2},{"t":"2023-12-19T11:00","p":42.3},{"t":"2023-12-19T20:00","p":42.8},{"t":"2023-12-20T06:00","p":43.3},{"t":"2023-12-20T15:00","p":44.0},{"t":"2023-12-21T00:00","p":43.7},{"t":"2023-12-21T10:00","p":44.2},{"t":"2023-12-22T00:00","p":44.0},{"t":"2023-12-22T14:00","p":43.9},{"t":"2023-12-23T04:00","p":44.0},{"t":"2023-12-23T18:00","p":43.9},{"t":"2023-12-24T08:00","p":43.7},{"t":"2023-12-24T22:00","p":43.9},{"t":"2023-12-25T07:00","p":44.2},{"t":"2023-12-25T17:00","p":43.3},{"t":"2023-12-26T02:00","p":43.0},{"t":"2023-12-26T12:00","p":42.5},
{"t":"2023-12-26T16:00","p":42.7},{"t":"2023-12-27T02:00","p":43.0},{"t":"2023-12-27T16:00","p":43.5},{"t":"2023-12-28T06:00","p":42.7},{"t":"2023-12-28T20:00","p":42.5},{"t":"2023-12-29T10:00","p":42.2},{"t":"2023-12-29T19:00","p":41.8},{"t":"2023-12-30T09:00","p":42.2},{"t":"2023-12-30T23:00","p":42.5},{"t":"2023-12-31T13:00","p":42.5},{"t":"2024-01-01T03:00","p":42.7},{"t":"2024-01-01T13:00","p":43.2},{"t":"2024-01-01T22:00","p":44.7},{"t":"2024-01-02T08:00","p":45.7},{"t":"2024-01-02T17:00","p":45.4},{"t":"2024-01-03T02:00","p":45.2},{"t":"2024-01-03T07:00","p":42.8},{"t":"2024-01-03T16:00","p":42.8},{"t":"2024-01-04T02:00","p":43.2},{"t":"2024-01-04T11:00","p":44.2},{"t":"2024-01-04T21:00","p":44.0},{"t":"2024-01-05T11:00","p":44.2},{"t":"2024-01-06T01:00","p":44.0},{"t":"2024-01-06T15:00","p":44.2},{"t":"2024-01-07T05:00","p":44.4},{"t":"2024-01-07T19:00","p":44.0},{"t":"2024-01-08T01:00","p":43.3},{"t":"2024-01-08T09:00","p":45.4},{"t":"2024-01-08T15:00","p":47.0},{"t":"2024-01-09T04:00","p":46.9},{"t":"2024-01-09T13:00","p":46.7},{"t":"2024-01-09T22:00","p":46.0},{"t":"2024-01-10T08:00","p":45.0},{"t":"2024-01-10T14:00","p":46.4},{"t":"2024-01-10T22:00","p":46.7},{"t":"2024-01-11T05:00","p":47.2},{"t":"2024-01-11T09:00","p":48.5},{"t":"2024-01-11T13:00","p":46.4},{"t":"2024-01-11T21:00","p":46.4},{"t":"2024-01-12T07:00","p":45.7},{"t":"2024-01-12T13:00","p":43.7},{"t":"2024-01-12T19:00","p":42.8},{"t":"2024-01-13T06:00","p":42.8},{"t":"2024-01-13T20:00","p":43.0},{"t":"2024-01-14T10:00","p":42.8},{"t":"2024-01-14T20:00","p":42.2},{"t":"2024-01-15T05:00","p":42.7},{"t":"2024-01-15T19:00","p":42.8},{"t":"2024-01-16T09:00","p":43.2},{"t":"2024-01-16T18:00","p":43.3},{"t":"2024-01-17T09:00","p":42.8},{"t":"2024-01-17T23:00","p":42.7},{"t":"2024-01-18T13:00","p":42.2},{"t":"2024-01-18T19:00","p":41.3},{"t":"2024-01-19T05:00","p":41.5},{"t":"2024-01-19T17:00","p":41.7},{"t":"2024-01-20T07:00","p":41.5},{"t":"2024-01-20T21:00","p":41.6},{"t":"2024-01-21T11:00","p":41.5},{"t":"2024-01-22T06:00","p":41.2},{"t":"2024-01-22T15:00","p":40.3},{"t":"2024-01-23T00:00","p":39.7},{"t":"2024-01-23T10:00","p":38.8},{"t":"2024-01-23T19:00","p":39.8},{"t":"2024-01-24T09:00","p":40.0},{"t":"2024-01-24T23:00","p":40.2},{"t":"2024-01-25T13:00","p":40.0},{"t":"2024-01-26T04:00","p":40.3},{"t":"2024-01-26T13:00","p":42.0},
{"t":"2024-01-27T06:00","p":41.9},{"t":"2024-01-27T20:00","p":42.3},{"t":"2024-01-28T10:00","p":42.4},{"t":"2024-01-29T00:00","p":42.3},{"t":"2024-01-29T15:00","p":42.8},{"t":"2024-01-30T05:00","p":43.3},{"t":"2024-01-30T14:00","p":43.5},{"t":"2024-01-31T04:00","p":43.1},{"t":"2024-01-31T18:00","p":43.3},{"t":"2024-02-01T04:00","p":42.6},{"t":"2024-02-01T13:00","p":42.8},{"t":"2024-02-02T03:00","p":43.1},{"t":"2024-02-02T17:00","p":43.1},{"t":"2024-02-03T07:00","p":43.1},{"t":"2024-02-03T21:00","p":42.9},{"t":"2024-02-04T12:00","p":42.9},{"t":"2024-02-05T02:00","p":42.8},{"t":"2024-02-05T16:00","p":42.8},{"t":"2024-02-06T06:00","p":42.8},{"t":"2024-02-06T20:00","p":42.9},{"t":"2024-02-07T10:00","p":43.1},{"t":"2024-02-07T19:00","p":43.5},{"t":"2024-02-08T05:00","p":44.9},{"t":"2024-02-08T19:00","p":45.5},{"t":"2024-02-09T09:00","p":46.2},{"t":"2024-02-09T23:00","p":46.9},{"t":"2024-02-10T13:00","p":47.5},{"t":"2024-02-11T03:00","p":48.0},{"t":"2024-02-11T17:00","p":48.1},{"t":"2024-02-12T03:00","p":48.3},{"t":"2024-02-12T12:00","p":49.7},{"t":"2024-02-13T02:00","p":49.9},{"t":"2024-02-13T12:00","p":50.1},{"t":"2024-02-13T21:00","p":48.8},{"t":"2024-02-14T04:00","p":50.7},{"t":"2024-02-14T11:00","p":51.8},{"t":"2024-02-15T01:00","p":52.5},{"t":"2024-02-15T15:00","p":52.1},{"t":"2024-02-16T05:00","p":52.5},{"t":"2024-02-16T19:00","p":52.0},{"t":"2024-02-17T10:00","p":51.8},{"t":"2024-02-18T00:00","p":52.0},{"t":"2024-02-18T14:00","p":51.8},{"t":"2024-02-19T04:00","p":52.1},{"t":"2024-02-19T18:00","p":52.3},{"t":"2024-02-20T08:00","p":52.1},{"t":"2024-02-20T22:00","p":52.0},{"t":"2024-02-21T12:00","p":51.8},{"t":"2024-02-22T02:00","p":51.6},{"t":"2024-02-22T16:00","p":51.8},{"t":"2024-02-23T06:00","p":51.4},{"t":"2024-02-23T20:00","p":50.9},{"t":"2024-02-24T11:00","p":51.3},{"t":"2024-02-25T01:00","p":51.6},{"t":"2024-02-25T15:00","p":51.8},
{"t":"2024-02-25T19:00","p":51.7},{"t":"2024-02-26T09:00","p":51.4},{"t":"2024-02-26T17:00","p":51.0},{"t":"2024-02-27T00:00","p":54.4},{"t":"2024-02-27T06:00","p":56.0},{"t":"2024-02-27T14:00","p":57.1},{"t":"2024-02-27T23:00","p":57.4},{"t":"2024-02-28T09:00","p":57.7},{"t":"2024-02-28T16:00","p":59.7},{"t":"2024-02-28T21:00","p":61.7},{"t":"2024-02-29T03:00","p":62.7},{"t":"2024-02-29T11:00","p":62.4},{"t":"2024-02-29T18:00","p":61.4},{"t":"2024-02-29T22:00","p":62.4},{"t":"2024-03-01T06:00","p":61.1},{"t":"2024-03-01T12:00","p":62.1},{"t":"2024-03-01T22:00","p":62.2},{"t":"2024-03-02T12:00","p":62.1},{"t":"2024-03-03T02:00","p":62.1},{"t":"2024-03-03T11:00","p":61.9},{"t":"2024-03-03T21:00","p":62.7},{"t":"2024-03-04T06:00","p":64.1},{"t":"2024-03-04T15:00","p":66.4},{"t":"2024-03-04T22:00","p":67.4},{"t":"2024-03-05T06:00","p":68.8},{"t":"2024-03-05T13:00","p":67.1},{"t":"2024-03-05T20:00","p":68.4},{"t":"2024-03-06T00:00","p":60.1},{"t":"2024-03-06T05:00","p":63.8},{"t":"2024-03-06T12:00","p":66.4},{"t":"2024-03-06T19:00","p":67.1},{"t":"2024-03-07T05:00","p":66.8},{"t":"2024-03-07T14:00","p":67.4},{"t":"2024-03-07T23:00","p":68.1},{"t":"2024-03-08T09:00","p":67.8},{"t":"2024-03-08T18:00","p":68.8},{"t":"2024-03-09T03:00","p":68.4},{"t":"2024-03-09T13:00","p":68.8},{"t":"2024-03-10T03:00","p":68.9},{"t":"2024-03-10T17:00","p":69.8},{"t":"2024-03-11T02:00","p":69.1},{"t":"2024-03-11T10:00","p":70.5},{"t":"2024-03-11T17:00","p":72.1},{"t":"2024-03-12T02:00","p":72.5},{"t":"2024-03-12T11:00","p":72.1},{"t":"2024-03-12T21:00","p":71.1},{"t":"2024-03-13T06:00","p":72.1},{"t":"2024-03-13T16:00","p":73.1},{"t":"2024-03-14T01:00","p":72.8},{"t":"2024-03-14T10:00","p":73.5},{"t":"2024-03-14T17:00","p":71.8},{"t":"2024-03-15T00:00","p":71.1},{"t":"2024-03-15T08:00","p":69.4},{"t":"2024-03-15T15:00","p":67.4},{"t":"2024-03-15T21:00","p":69.8},{"t":"2024-03-16T05:00","p":68.4},{"t":"2024-03-16T12:00","p":67.8},{"t":"2024-03-16T19:00","p":67.1},{"t":"2024-03-17T04:00","p":65.8},{"t":"2024-03-17T14:00","p":67.1},{"t":"2024-03-17T23:00","p":67.8},{"t":"2024-03-18T08:00","p":68.4},{"t":"2024-03-18T18:00","p":67.8},{"t":"2024-03-19T03:00","p":66.4},{"t":"2024-03-19T12:00","p":64.8},{"t":"2024-03-19T22:00","p":63.8},{"t":"2024-03-20T07:00","p":62.1},{"t":"2024-03-20T17:00","p":63.4},{"t":"2024-03-21T02:00","p":66.8},{"t":"2024-03-21T12:00","p":67.8},{"t":"2024-03-21T21:00","p":66.8},{"t":"2024-03-22T06:00","p":65.1},{"t":"2024-03-22T16:00","p":63.8},{"t":"2024-03-23T01:00","p":64.4},{"t":"2024-03-23T11:00","p":64.1},{"t":"2024-03-23T20:00","p":65.1},{"t":"2024-03-24T05:00","p":64.4},{"t":"2024-03-24T15:00","p":65.8},{"t":"2024-03-25T00:00","p":66.4},{"t":"2024-03-25T09:00","p":67.1},{"t":"2024-03-25T16:00","p":67.4},{"t":"2024-03-25T22:00","p":70.5},{"t":"2024-03-26T04:00","p":70.1},{"t":"2024-03-26T11:00","p":70.5}
],
"boxes": [
{"t":"2023-09-26T04:00","t2":"2023-12-11T14:00","lo":369,"hi":420},
{"t":"2023-12-11T14:00","t2":"2024-02-12T08:00","lo":355.4,"hi":394.4},
{"t":"2024-02-12T08:00","t2":"2024-03-11T14:00","lo":369,"hi":420},
{"t":"2024-03-10T10:00","t2":"2024-03-26T06:00","lo":420,"hi":457.8}
],
"arrows": [
{"t":"2023-10-01T10:00","t2":"2023-12-14T20:00","a":389.0,"b":389.0},
{"t":"2023-12-18T05:00","t2":"2024-01-31T02:00","a":389.1,"b":358.6},
{"t":"2024-02-04T16:00","t2":"2024-03-18T04:00","a":360.9,"b":452.4}
],
"underlines": [
{"t":"2023-10-14T11:00","t2":"2023-11-21T15:00","a":434.2},
{"t":"2023-12-20T10:00","t2":"2024-02-03T10:00","a":409.9},
{"t":"2024-02-05T04:00","t2":"2024-03-05T06:00","a":470.2}
],
"notes": [
{"t":"2023-11-02T12:00","a":437.0,"label":"Octobre - Décembre 2023"},
{"t":"2023-11-02T12:00","a":429.3,"label":"370k BTC - 420 BTC"},
{"t":"2024-01-11T20:00","a":412.8,"label":"Décembre 2023 - Février 2024"},
{"t":"2024-01-11T20:00","a":405.0,"label":"350k BTC - 400 BTC"},
{"t":"2024-02-19T17:00","a":473.0,"label":"Février - Mars 2024"},
{"t":"2024-02-20T06:00","a":465.2,"label":"370k BTC - 420 BTC"},
{"t":"2024-02-20T06:00","a":457.3,"label":"puis"},
{"t":"2024-02-20T06:00","a":449.5,"label":"420k BTC - 450 BTC"}
]
},
"encoding": {
"x": {"field": "t", "type": "temporal",
"scale": {"domain": [{"year": 2023, "month": 9, "date": 26, "hours": 3}, {"year": 2024, "month": 3, "date": 26, "hours": 11}]},
"axis": {"values": [{"year":2023,"month":10,"date":9},{"year":2023,"month":10,"date":23},{"year":2023,"month":11,"date":6},{"year":2023,"month":11,"date":20},{"year":2023,"month":12,"date":4},{"year":2023,"month":12,"date":18},{"year":2024,"month":1,"date":1},{"year":2024,"month":1,"date":15},{"year":2024,"month":1,"date":29},{"year":2024,"month":2,"date":12},{"year":2024,"month":2,"date":26},{"year":2024,"month":3,"date":11},{"year":2024,"month":3,"date":25}],
"format": "%-d %b", "labelFontSize": 16, "labelColor": "#444444", "labelFont": "Inter", "tickColor": "#ececec", "tickSize": 16, "labelPadding": 12, "domainColor": "#dcdcdc", "grid": false,
"title": "© 2024 Glassnode. All Rights Reserved.", "titleX": -87, "titleY": 107, "titleAlign": "left", "titleAnchor": "start", "titleBaseline": "middle", "titleFontSize": 20, "titleFontWeight": "normal", "titleColor": "#707070", "titleFont": "Inter"}}
},
"layer": [
{"data": {"name": "boxes"}, "mark": {"type": "rect", "color": "#f3935b", "opacity": 0.25},
 "encoding": {"x2": {"field": "t2"}, "y": {"field": "lo", "type": "quantitative", "scale": {"domain": [340, 480], "nice": false, "zero": false}, "axis": null}, "y2": {"field": "hi"}}},
{"data": {"name": "oi"}, "mark": {"type": "line", "strokeWidth": 1.6},
 "encoding": {
  "y": {"field": "v", "type": "quantitative", "scale": {"domain": [340, 480], "nice": false, "zero": false},
   "axis": {"orient": "left", "values": [340, 360, 380, 400, 420, 440, 460], "labelExpr": "datum.value % 40 == 0 ? '' : datum.value + 'K'", "grid": true, "gridColor": "#e6e6e6", "ticks": false, "domainColor": "#f7b977", "domainWidth": 1.5, "labelPadding": 22, "labelOffset": -9, "labelFontSize": 16, "labelColor": "#444444", "labelFont": "Inter", "title": null}},
  "color": {"datum": "Futures Open Interest - All Exchanges [BTC]", "type": "nominal",
   "scale": {"domain": ["Futures Open Interest - All Exchanges [BTC]", "Price [USD]"], "range": ["#f7931a", "#333333"]},
   "legend": {"orient": "none", "legendX": -45, "legendY": -22, "direction": "horizontal", "title": null, "symbolType": "circle", "symbolSize": 20, "symbolStrokeWidth": 5, "labelFontSize": 15, "labelColor": "#333333", "labelFont": "Inter", "labelLimit": 800, "columnPadding": 38, "labelOffset": 4}}}},
{"data": {"name": "px"}, "mark": {"type": "line", "strokeWidth": 1.6},
 "encoding": {
  "y": {"field": "p", "type": "quantitative", "scale": {"domain": [20, 90], "nice": false, "zero": false},
   "axis": {"orient": "right", "values": [20, 40, 60, 80], "labelExpr": "'$' + datum.value + 'k'", "grid": false, "ticks": false, "domainColor": "#9a9a9a", "domainWidth": 1.5, "labelPadding": 22, "labelOffset": -9, "labelFontSize": 16, "labelColor": "#444444", "labelFont": "Inter",
    "title": "glassnode", "titleAngle": 0, "titleX": -11, "titleY": 803, "titleAlign": "center", "titleBaseline": "middle", "titleFontSize": 39.5, "titleFontWeight": 500, "titleColor": "#111111", "titleFont": "Inter"}},
  "color": {"datum": "Price [USD]", "type": "nominal"}}},
{"data": {"name": "arrows"}, "mark": {"type": "rule", "color": "#6e5a50", "opacity": 0.52, "strokeWidth": 3},
 "encoding": {"x2": {"field": "t2"}, "y": {"field": "a", "type": "quantitative", "scale": {"domain": [340, 480], "nice": false, "zero": false}, "axis": null}, "y2": {"field": "b"}}},
{"data": {"values": [{"t": "2023-12-14T20:00", "a": 389.0}]}, "mark": {"type": "point", "shape": "M-1,-0.9L0,0L-1,0.9", "filled": false, "size": 220, "strokeWidth": 3, "color": "#6e5a50", "opacity": 0.52, "angle": 0},
 "encoding": {"y": {"field": "a", "type": "quantitative", "scale": {"domain": [340, 480], "nice": false, "zero": false}, "axis": null}}},
{"data": {"values": [{"t": "2024-01-31T02:00", "a": 358.6}]}, "mark": {"type": "point", "shape": "M-1,-0.9L0,0L-1,0.9", "filled": false, "size": 220, "strokeWidth": 3, "color": "#6e5a50", "opacity": 0.52, "angle": 22},
 "encoding": {"y": {"field": "a", "type": "quantitative", "scale": {"domain": [340, 480], "nice": false, "zero": false}, "axis": null}}},
{"data": {"values": [{"t": "2024-03-18T04:00", "a": 452.4}]}, "mark": {"type": "point", "shape": "M-1,-0.9L0,0L-1,0.9", "filled": false, "size": 220, "strokeWidth": 3, "color": "#6e5a50", "opacity": 0.52, "angle": -51.5},
 "encoding": {"y": {"field": "a", "type": "quantitative", "scale": {"domain": [340, 480], "nice": false, "zero": false}, "axis": null}}},
{"data": {"name": "underlines"}, "mark": {"type": "rule", "color": "#111111", "strokeWidth": 2},
 "encoding": {"x2": {"field": "t2"}, "y": {"field": "a", "type": "quantitative", "scale": {"domain": [340, 480], "nice": false, "zero": false}, "axis": null}}},
{"data": {"name": "notes"}, "mark": {"type": "text", "font": "Liberation Sans", "fontSize": 27, "fontWeight": "bold", "color": "#111111", "align": "center", "baseline": "middle"},
 "encoding": {"text": {"field": "label"}, "y": {"field": "a", "type": "quantitative", "scale": {"domain": [340, 480], "nice": false, "zero": false}, "axis": null}}}
],
"resolve": {"scale": {"y": "independent"}}
}
